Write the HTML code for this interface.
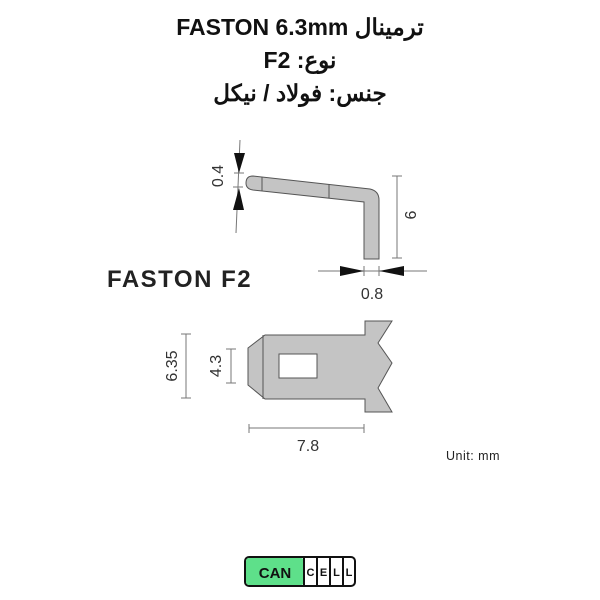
<!DOCTYPE html>
<html><head><meta charset="utf-8"><style>
body{margin:0;width:600px;height:600px;background:#fff;overflow:hidden;position:relative;font-family:"Liberation Sans","Noto Sans CJK SC",sans-serif}
.t{position:absolute;left:0;width:600px;text-align:center;font-weight:bold;font-size:23px;color:#111;direction:rtl}
</style></head><body>
<div class="t" style="top:14px">ترمینال FASTON 6.3mm</div>
<div class="t" style="top:47px">نوع: F2</div>
<div class="t" style="top:80px">جنس: فولاد / نیکل</div>
<svg width="600" height="600" style="position:absolute;left:0;top:0" font-family="Liberation Sans, sans-serif">
<g fill="#c4c4c4" stroke="#555" stroke-width="1">
<path d="M253,176 L370,189 Q379,191 379,200 L379,259 L364,259 L364,202 L253,190 Q246,189 246,183 Q246,176 253,176 Z"/>
<line x1="262" y1="177" x2="262" y2="191"/><line x1="329" y1="184" x2="329" y2="198"/>
<path d="M248,348 L265,335 L365,335 L365,321 L392,321 L378,343 L392,363 L378,388 L392,412 L365,412 L365,399 L265,399 L248,385 Z"/>
<line x1="263" y1="335" x2="263" y2="399"/>
<rect x="279" y="354" width="38" height="24" fill="#fff"/>
</g>
<g stroke="#777" stroke-width="1" fill="none">
<line x1="240" y1="140" x2="236" y2="233"/>
<line x1="234" y1="173" x2="244" y2="173"/><line x1="233" y1="187" x2="243" y2="187"/>
<line x1="397" y1="176" x2="397" y2="258"/><line x1="392" y1="176" x2="402" y2="176"/><line x1="392" y1="258" x2="402" y2="258"/>
<line x1="318" y1="271" x2="427" y2="271"/><line x1="364" y1="266" x2="364" y2="276"/><line x1="379" y1="266" x2="379" y2="276"/>
<line x1="186" y1="334" x2="186" y2="398"/><line x1="181" y1="334" x2="191" y2="334"/><line x1="181" y1="398" x2="191" y2="398"/>
<line x1="231" y1="349" x2="231" y2="383"/><line x1="226" y1="349" x2="236" y2="349"/><line x1="226" y1="383" x2="236" y2="383"/>
<line x1="249" y1="428" x2="364" y2="428"/><line x1="249" y1="424" x2="249" y2="433"/><line x1="364" y1="424" x2="364" y2="433"/>
</g>
<g fill="#111">
<polygon points="234,153 245,153 239,173"/><polygon points="233,210 244,210 239,188"/>
<polygon points="340,266 340,276 364,271"/><polygon points="404,266 404,276 379,271"/>
</g>
<g fill="#333" font-size="16">
<text transform="translate(223,176) rotate(-90)" text-anchor="middle">0.4</text>
<text transform="translate(416,215) rotate(-90)" text-anchor="middle">6</text>
<text x="372" y="299" text-anchor="middle">0.8</text>
<text transform="translate(177,366) rotate(-90)" text-anchor="middle">6.35</text>
<text transform="translate(221,366) rotate(-90)" text-anchor="middle">4.3</text>
<text x="308" y="451" text-anchor="middle">7.8</text>
</g>
<text x="107" y="287" font-size="24" font-weight="bold" fill="#222" letter-spacing="1.5">FASTON  F2</text>
<text x="446" y="460" font-size="12.5" fill="#222" letter-spacing="0.5">Unit: mm</text>
<rect x="245" y="557" width="110" height="29" rx="4" fill="#fff" stroke="#111" stroke-width="2"/>
<rect x="246" y="558" width="58" height="27" rx="3" fill="#5ee08a"/>
<g stroke="#111" stroke-width="2"><line x1="304" y1="557" x2="304" y2="586"/><line x1="317" y1="557" x2="317" y2="586"/><line x1="330" y1="557" x2="330" y2="586"/><line x1="343" y1="557" x2="343" y2="586"/></g>
<text x="275" y="578" font-size="15" font-weight="bold" text-anchor="middle" fill="#111">CAN</text>
<g font-size="11" font-weight="bold" fill="#111" text-anchor="middle"><text x="310.5" y="576">C</text><text x="323.5" y="576">E</text><text x="336.5" y="576">L</text><text x="349" y="576">L</text></g>
</svg>
</body></html>
